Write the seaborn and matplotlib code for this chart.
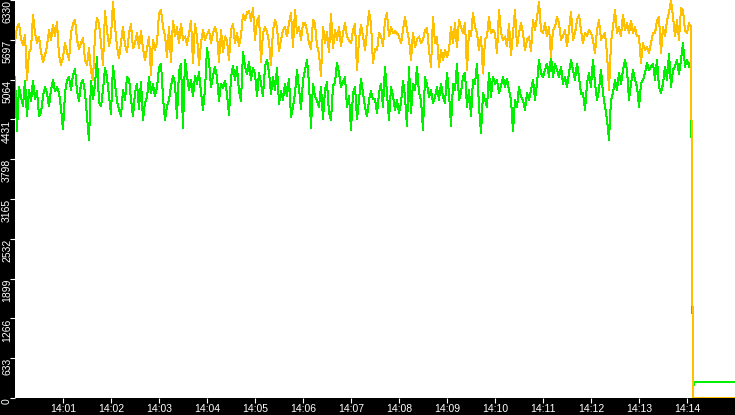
import matplotlib
matplotlib.use('Agg')
import matplotlib.pyplot as plt
import seaborn as sns
import pandas as pd
import numpy as np

# sampling: one value every 2.5 s starting at 14:00:00
start = pd.Timestamp('2024-01-01 14:00:00')
step_s = 2.5

yellow = [
    5650, 5900, 5950, 5700, 5620, 5780, 5060, 5500, 5550, 6100,
    5800, 5650, 5750, 5500, 5350, 5450, 5600, 5850, 5700, 5930,
    5750, 5980, 5450, 5300, 5420, 5650, 5500, 5380, 5800, 5950,
    6020, 5700, 5550, 5650, 5720, 5380, 5300, 5560, 5200, 5050,
    5800, 6050, 5950, 5650, 5300, 6150, 5850, 5600, 5750, 6300,
    5900, 5600, 5400, 5650, 5900, 5620, 5500, 5800, 5950, 5560,
    5650, 5800, 5570, 5830, 5550, 5380, 5550, 5750, 5140, 5700,
    5540, 5650, 6120, 6170, 5900, 5770, 5430, 5900, 5350, 6000,
    5750, 5900, 5640, 5950, 5700, 5750, 5620, 5800, 6000, 5320,
    5950, 5750, 5300, 5650, 5850, 5700, 5780, 5850, 5650, 5800,
    5900, 5780, 5350, 5850, 5500, 5750, 5680, 5380, 5850, 5950,
    5650, 5800, 5600, 5750, 6100, 6010, 6130, 6150, 6000, 6200,
    5700, 6000, 6070, 5350, 5800, 5900, 5820, 5660, 5300, 5850,
    6010, 5900, 5520, 5700, 5850, 5900, 5750, 5970, 6120, 5580,
    6170, 5800, 5900, 5700, 5960, 5960, 5850, 5640, 5550, 6010,
    5950, 5600, 5480, 5120, 5900, 5650, 5820, 5500, 6110, 5560,
    5850, 5700, 5900, 5600, 5800, 5960, 5750, 5690, 5640, 5850,
    5950, 5220, 5700, 5930, 5750, 5530, 5850, 6150, 5950, 5330,
    5550, 5530, 5800, 5750, 5600, 6010, 6120, 5750, 5900, 5800,
    5830, 5800, 5750, 5640, 5850, 6060, 5850, 5700, 5380, 5800,
    5580, 5700, 5750, 5640, 5700, 5850, 5880, 5530, 5270, 6060,
    5640, 5750, 5270, 5530, 5380, 5530, 5430, 5530, 5900, 5640,
    5960, 5580, 6010, 5900, 5800, 5960, 5220, 5830, 5750, 6120,
    5900, 5800, 5530, 5750, 5160, 5700, 5750, 6060, 5800, 5850,
    5800, 5480, 6170, 5800, 5700, 5750, 5590, 5950, 5450, 5800,
    6170, 5590, 5800, 5960, 5800, 5530, 5700, 5750, 5520, 6010,
    5850, 6060, 6300, 5850, 5800, 5960, 5750, 5900, 5430, 5850,
    5900, 6060, 5960, 5700, 5750, 5850, 5590, 5850, 6140, 5700,
    5800, 6010, 6090, 5850, 5640, 5800, 5750, 5850, 5800, 5700,
    5480, 5850, 6010, 5700, 5750, 5800, 5480, 4900, 5650, 5900,
    6170, 5800, 5900, 5750, 6100, 5850, 5960, 5800, 6000, 5800,
    5900, 5750, 5750, 5330, 5640, 5530, 5590, 5480, 5640, 5800,
    5800, 6010, 6060, 5480, 5900, 5750, 6010, 6120, 6330, 6070,
    5750, 6010, 5700, 6200, 6170, 5850, 5800, 5960, 5900,
]

green = [
    5100, 4250, 4950, 4780, 4650, 5050, 4480, 4900, 4720, 5050,
    4760, 4880, 4490, 4540, 4800, 4950, 4850, 4640, 4900, 5060,
    4880, 4940, 4860, 4600, 4270, 4850, 5050, 5100, 4900, 5140,
    5240, 4880, 4720, 5000, 5060, 4850, 4480, 4100, 5050, 4750,
    4990, 5420, 4700, 4640, 4900, 5250, 5100, 4800, 4520, 5280,
    5000, 4720, 4580, 4480, 4900, 4740, 5100, 5080, 4750, 4480,
    4850, 5000, 4600, 5030, 4420, 4700, 4780, 5100, 4850, 4990,
    4800, 4950, 5250, 5320, 4780, 4420, 4640, 4740, 4960, 5120,
    5000, 4460, 5200, 5320, 4290, 5380, 5120, 4900, 5060, 4800,
    5120, 5000, 5180, 4860, 4580, 4900, 5570, 5350, 4950, 5120,
    5270, 5100, 4730, 5000, 4930, 5050, 4830, 4500, 5100, 5280,
    5060, 5260, 4880, 4720, 5500, 5280, 5150, 5350, 5060, 5250,
    5150, 4800, 5170, 5000, 4800, 5270, 5380, 5180, 4840, 5100,
    4900, 5250, 4680, 4880, 4740, 5000, 4800, 5080, 4470, 4630,
    4850, 5210, 4920, 4600, 5060, 5220, 5380, 5000, 4300, 5000,
    4790, 4730, 4630, 4950, 4440, 4900, 5020, 4530, 4420, 4970,
    5010, 5330, 5170, 4950, 5030, 5100, 4630, 4800, 4260, 4850,
    4950, 4440, 4740, 5070, 4850, 4630, 4480, 4740, 4880, 4750,
    4750, 4530, 4850, 5000, 4630, 5270, 4850, 4420, 4950, 4800,
    4580, 4740, 4530, 4690, 5050, 4790, 4320, 5270, 4530, 5000,
    4900, 5270, 4850, 4740, 4260, 5100, 4990, 4790, 4900, 4690,
    4790, 4950, 4740, 5000, 4790, 4690, 5170, 4850, 4330, 5000,
    4900, 5320, 4740, 4850, 5110, 5170, 4630, 4900, 4480, 5060,
    5000, 5320, 4630, 4210, 4850, 4740, 4630, 5170, 4790, 5110,
    5000, 5060, 4850, 4960, 5100, 4950, 5080, 4900, 4740, 4250,
    4740, 4620, 4950, 4790, 4740, 4580, 4850, 4740, 4900, 5060,
    4740, 5000, 5380, 5170, 5100, 5220, 5320, 5110, 5440, 5110,
    5320, 5220, 5110, 5270, 5000, 5110, 4950, 5170, 5380, 5220,
    5060, 5320, 5110, 4830, 4850, 4580, 5000, 5170, 4950, 5380,
    5000, 4740, 4900, 5220, 4850, 4630, 4420, 4110, 4740, 4850,
    5060, 4900, 5170, 5000, 5220, 5380, 5220, 4740, 5000, 5220,
    5060, 4950, 4630, 5000, 5060, 5170, 5330, 5220, 5270, 5320,
    5060, 5380, 4950, 4850, 5000, 5270, 5060, 5480, 4950, 5220,
    5270, 5380, 5150, 5380, 5640, 5270, 5380, 5270, 5350,
]

# the drop at the end (seconds after 14:00, value)
yellow_tail_s = [847.5, 900]
yellow_tail = [0, 0]
green_tail_s = [846.27, 846.2, 847.45, 848.6, 900]
green_tail = [2900, 2750, 130, 250, 250]

y_ticks = [0, 633, 1266, 1899, 2532, 3165, 3798, 4431, 5064, 5697, 6330]
x_minutes = list(range(1, 15))
x_labels = ['14:01', '14:02', '14:03', '14:04', '14:05', '14:06', '14:07',
            '14:08', '14:09', '14:10', '14:11', '14:12', '14:13', '14:14']

colors = {'green': '#00F000', 'yellow': '#FFC000'}


def build(name, vals, tail_s, tail_v):
    secs = list(np.arange(len(vals)) * step_s) + tail_s
    t = start + pd.to_timedelta(secs, unit='s')
    return pd.DataFrame({'time': t, 'value': list(vals) + tail_v, 'series': name})


df = pd.concat([build('green', green, green_tail_s, green_tail),
                build('yellow', yellow, yellow_tail_s, yellow_tail)],
               ignore_index=True)

plt.rcParams['font.family'] = ['Liberation Sans', 'DejaVu Sans']

fig = plt.figure(figsize=(7.35, 4.15), dpi=100, facecolor='black')
ax = fig.add_axes([15 / 735, 17 / 415, 720 / 735, 398 / 415])
ax.set_facecolor('white')

sns.lineplot(data=df, x='time', y='value', hue='series',
             hue_order=['green', 'yellow'], palette=colors,
             estimator=None, sort=False, legend=False,
             lw=0.72, antialiased=False, ax=ax)

ax.set_xlim(start, start + pd.Timedelta(minutes=15))
ax.set_ylim(0, 6330)
ax.set_xticks([start + pd.Timedelta(minutes=m) for m in x_minutes])
ax.set_xticklabels(x_labels)
ax.set_yticks(y_ticks)
ax.set_yticklabels([str(v) for v in y_ticks])
ax.set_xlabel('')
ax.set_ylabel('')

for s in ax.spines.values():
    s.set_visible(False)

ax.tick_params(axis='both', colors='white', labelcolor='white',
               direction='out', length=3.6, width=0.8, labelsize=7.5)
ax.tick_params(axis='x', pad=1)
ax.tick_params(axis='y', pad=-1.5)
for lab in ax.get_yticklabels():
    lab.set_rotation(90)
    lab.set_va('top')
    lab.set_ha('right')

fig.savefig('out.png', dpi=100, facecolor='black')
